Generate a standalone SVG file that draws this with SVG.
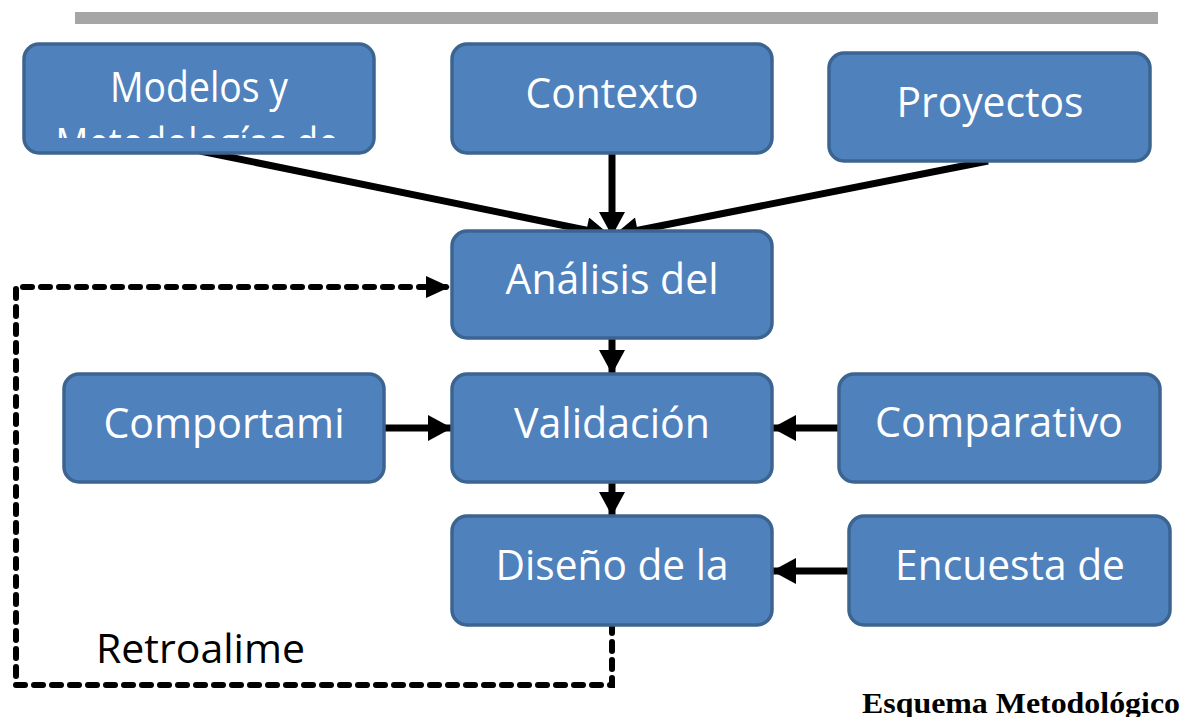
<svg xmlns="http://www.w3.org/2000/svg" width="1182" height="717" viewBox="0 0 1182 717">
<style>
.box{fill:#4f81bd;stroke:#3c6491;stroke-width:3.5}
.t{font-family:"Open Sans",Lato,sans-serif;font-size:42px;fill:#fff;text-anchor:middle}
.c{stroke:#000;stroke-width:7;fill:none}
.d{stroke:#000;stroke-width:6;fill:none;stroke-dasharray:9 9;stroke-linecap:round}
</style>
<defs>
<marker id="ah" markerUnits="userSpaceOnUse" markerWidth="26" markerHeight="26" viewBox="0 0 24 26" refX="24" refY="13" orient="auto"><path d="M0,0 L24,13 L0,26 Z" fill="#000"/></marker>
<marker id="ahd" markerUnits="userSpaceOnUse" markerWidth="24" markerHeight="22" viewBox="0 0 22 20" refX="22" refY="10" orient="auto"><path d="M0,0 L22,10 L0,20 Z" fill="#000"/></marker>
<clipPath id="cl1"><rect x="24" y="44" width="350" height="94"/></clipPath>
</defs>
<rect x="75" y="12" width="1083" height="12" fill="#a6a6a6"/>
<g id="connectors">
<line class="c" x1="200" y1="151" x2="610" y2="235" marker-end="url(#ah)"/>
<line class="c" x1="612" y1="153" x2="612" y2="236" marker-end="url(#ah)"/>
<line class="c" x1="988" y1="161" x2="614" y2="235" marker-end="url(#ah)"/>
<line class="c" x1="612" y1="338" x2="612" y2="374" marker-end="url(#ah)"/>
<line class="c" x1="384" y1="428" x2="452" y2="428" marker-end="url(#ah)"/>
<line class="c" x1="839" y1="428" x2="772" y2="428" marker-end="url(#ah)"/>
<line class="c" x1="612" y1="482" x2="612" y2="516" marker-end="url(#ah)"/>
<line class="c" x1="849" y1="571" x2="772" y2="571" marker-end="url(#ah)"/>
<path class="d" d="M612,624 L612,685 L16,685 L16,287 L450,287" marker-end="url(#ahd)"/>
</g>
<g id="modelos"><rect class="box" x="24" y="44" width="350" height="109" rx="15"/>
<text class="t" x="199" y="102" textLength="178" lengthAdjust="spacingAndGlyphs">Modelos y</text>
<text class="t" x="197" y="158" textLength="283" lengthAdjust="spacingAndGlyphs" clip-path="url(#cl1)">Metodologías de</text></g>
<g id="contexto"><rect class="box" x="452" y="44" width="320" height="109" rx="15"/>
<text class="t" x="612" y="108" textLength="173" lengthAdjust="spacingAndGlyphs">Contexto</text></g>
<g id="proyectos"><rect class="box" x="829" y="53" width="321" height="108" rx="15"/>
<text class="t" x="990" y="117" textLength="187" lengthAdjust="spacingAndGlyphs">Proyectos</text></g>
<g id="analisis"><rect class="box" x="452" y="231" width="320" height="107" rx="15"/>
<text class="t" x="612" y="294" textLength="213" lengthAdjust="spacingAndGlyphs">Análisis del</text></g>
<g id="comportami"><rect class="box" x="64" y="374" width="320" height="108" rx="15"/>
<text class="t" x="224" y="438" textLength="241" lengthAdjust="spacingAndGlyphs">Comportami</text></g>
<g id="validacion"><rect class="box" x="452" y="374" width="320" height="108" rx="15"/>
<text class="t" x="612" y="438" textLength="196" lengthAdjust="spacingAndGlyphs">Validación</text></g>
<g id="comparativo"><rect class="box" x="839" y="374" width="321" height="108" rx="15"/>
<text class="t" x="999" y="437" textLength="248" lengthAdjust="spacingAndGlyphs">Comparativo</text></g>
<g id="diseno"><rect class="box" x="452" y="516" width="320" height="109" rx="15"/>
<text class="t" x="612" y="580" textLength="233" lengthAdjust="spacingAndGlyphs">Diseño de la</text></g>
<g id="encuesta"><rect class="box" x="849" y="516" width="321" height="109" rx="15"/>
<text class="t" x="1010" y="580" textLength="230" lengthAdjust="spacingAndGlyphs">Encuesta de</text></g>
<text x="96" y="663" font-family="'Open Sans',Lato,sans-serif" font-size="40" fill="#000" textLength="209" lengthAdjust="spacingAndGlyphs">Retroalime</text>
<text x="862" y="713" font-family="'Liberation Serif',serif" font-weight="bold" font-size="30" fill="#000" textLength="318" lengthAdjust="spacingAndGlyphs">Esquema Metodológico</text>
</svg>
